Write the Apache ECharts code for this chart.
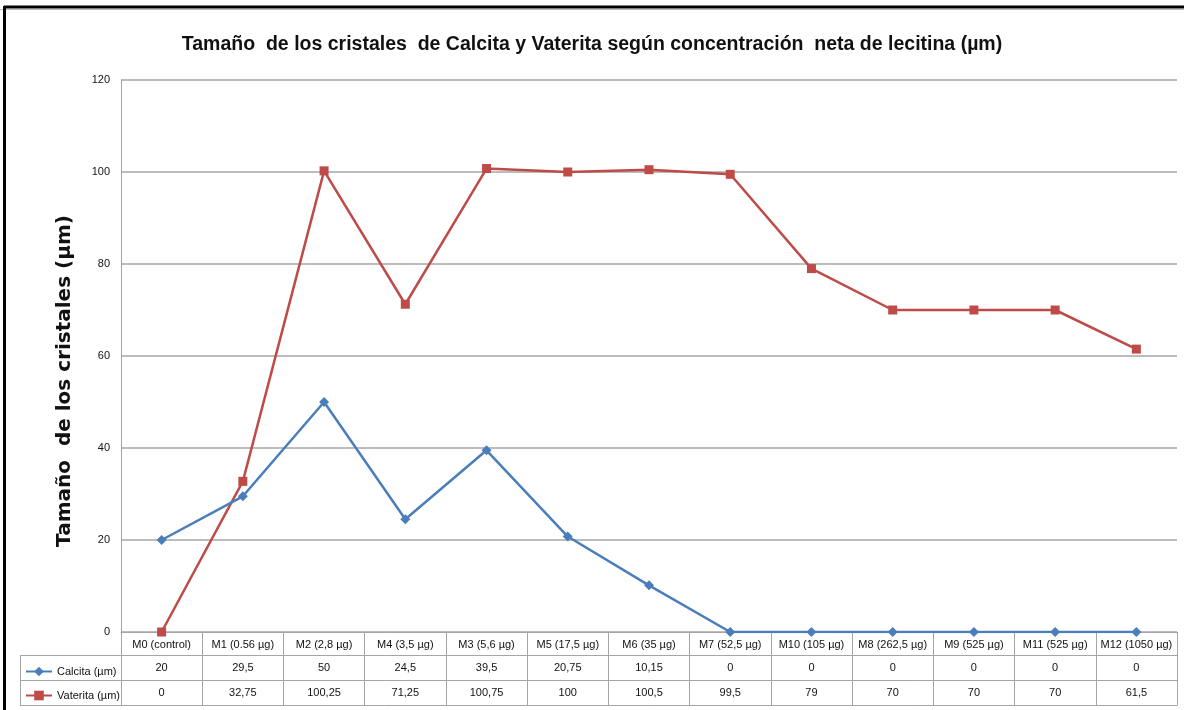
<!DOCTYPE html>
<html>
<head>
<meta charset="utf-8">
<script src="https://cdn.jsdelivr.net/npm/echarts@6/dist/echarts.min.js"></script>
<style>html,body{margin:0;padding:0;background:#fff}#c{width:1184px;height:710px}</style>
</head>
<body>
<div id="c"></div>
<script>
const titleText = 'Tamaño  de los cristales  de Calcita y Vaterita según concentración  neta de lecitina (µm)';
const yAxisTitle = 'Tamaño  de los cristales (µm)';
const categories = ['M0 (control)', 'M1 (0.56 µg)', 'M2 (2,8 µg)', 'M4 (3,5 µg)', 'M3 (5,6 µg)', 'M5 (17,5 µg)', 'M6 (35 µg)', 'M7 (52,5 µg)', 'M10 (105 µg)', 'M8 (262,5 µg)', 'M9 (525 µg)', 'M11 (525 µg)', 'M12 (1050 µg)'];
const calcita = [20, 29.5, 50, 24.5, 39.5, 20.75, 10.15, 0, 0, 0, 0, 0, 0];
const vaterita = [0, 32.75, 100.25, 71.25, 100.75, 100, 100.5, 99.5, 79, 70, 70, 70, 61.5];
const seriesNames = ['Calcita (µm)', 'Vaterita (µm)'];
const yTicks = { min: 0, max: 120, interval: 20 };

const fmt = v => String(v).replace('.', ',');
const narrow = "'Liberation Sans Narrow', 'Liberation Sans', sans-serif";
const gridCol = '#a6a6a6';
const blue = '#4a7ebb';
const red = '#be4b48';

const chart = echarts.init(document.getElementById('c'), null, { renderer: 'canvas' });

const baseX = (data, offset, showLabel, tick) => ({
  type: 'category',
  data: data,
  position: 'bottom',
  offset: offset,
  boundaryGap: true,
  axisLine: { show: true, lineStyle: { color: gridCol, width: 1 } },
  axisTick: tick ? { show: true, length: 73, lineStyle: { color: gridCol, width: 1 } } : { show: false },
  axisLabel: { show: showLabel, interval: 0, margin: 7, color: '#111', fontSize: 11, fontFamily: narrow, hideOverlap: false },
  splitLine: { show: false }
});

chart.setOption({
  animation: false,
  backgroundColor: '#fff',
  title: {
    text: titleText,
    left: 'center',
    top: 30,
    textStyle: { fontFamily: narrow, fontWeight: 'bold', fontSize: 19.5, color: '#111' }
  },
  grid: { left: 121, right: 7, top: 80, bottom: 78, containLabel: false },
  legend: {
    orient: 'vertical',
    left: 20,
    top: 661,
    itemWidth: 26,
    itemHeight: 12,
    itemGap: 13,
    textStyle: { fontFamily: narrow, fontSize: 11, color: '#111' },
    data: seriesNames
  },
  xAxis: [
    baseX(categories, 0, true, true),
    baseX(calcita.map(fmt), 23, true, false),
    baseX(vaterita.map(fmt), 48, true, false),
    baseX(categories, 73, false, false)
  ],
  yAxis: {
    type: 'value',
    min: yTicks.min,
    max: yTicks.max,
    interval: yTicks.interval,
    name: yAxisTitle,
    nameLocation: 'middle',
    nameGap: 46,
    nameRotate: 90,
    nameTextStyle: { fontFamily: "'DejaVu Sans', sans-serif", fontWeight: 'bold', fontSize: 20, color: '#111', padding: [0, 0, 0, -50] },
    axisLine: { show: true, lineStyle: { color: gridCol } },
    axisTick: { show: false },
    axisLabel: { margin: 11, color: '#111', fontSize: 11, fontFamily: narrow },
    splitLine: { show: true, lineStyle: { color: gridCol, width: 1.5 } }
  },
  series: [
    {
      name: seriesNames[0],
      type: 'line',
      data: calcita,
      xAxisIndex: 0,
      symbol: 'diamond',
      symbolSize: 10,
      lineStyle: { color: blue, width: 2.5 },
      itemStyle: { color: blue },
      z: 3
    },
    {
      name: seriesNames[1],
      type: 'line',
      data: vaterita,
      xAxisIndex: 0,
      symbol: 'rect',
      symbolSize: 9,
      lineStyle: { color: red, width: 2.5 },
      itemStyle: { color: red },
      z: 2
    }
  ],
  graphic: [
    { type: 'line', shape: { x1: 20, y1: 655.5, x2: 121, y2: 655.5 }, style: { stroke: gridCol, lineWidth: 1 } },
    { type: 'line', shape: { x1: 20, y1: 680.5, x2: 121, y2: 680.5 }, style: { stroke: gridCol, lineWidth: 1 } },
    { type: 'line', shape: { x1: 20, y1: 705.5, x2: 121, y2: 705.5 }, style: { stroke: gridCol, lineWidth: 1 } },
    { type: 'line', shape: { x1: 20.5, y1: 655, x2: 20.5, y2: 706 }, style: { stroke: gridCol, lineWidth: 1 } },
    { type: 'line', shape: { x1: 4, y1: 7, x2: 1184, y2: 7 }, style: { stroke: '#000', lineWidth: 3 } },
    { type: 'line', shape: { x1: 0, y1: 9.5, x2: 1184, y2: 9.5 }, style: { stroke: '#bbb', lineWidth: 1 } },
    { type: 'line', shape: { x1: 4.5, y1: 6, x2: 4.5, y2: 710 }, style: { stroke: '#000', lineWidth: 3 } }
  ]
});
</script>
</body>
</html>
